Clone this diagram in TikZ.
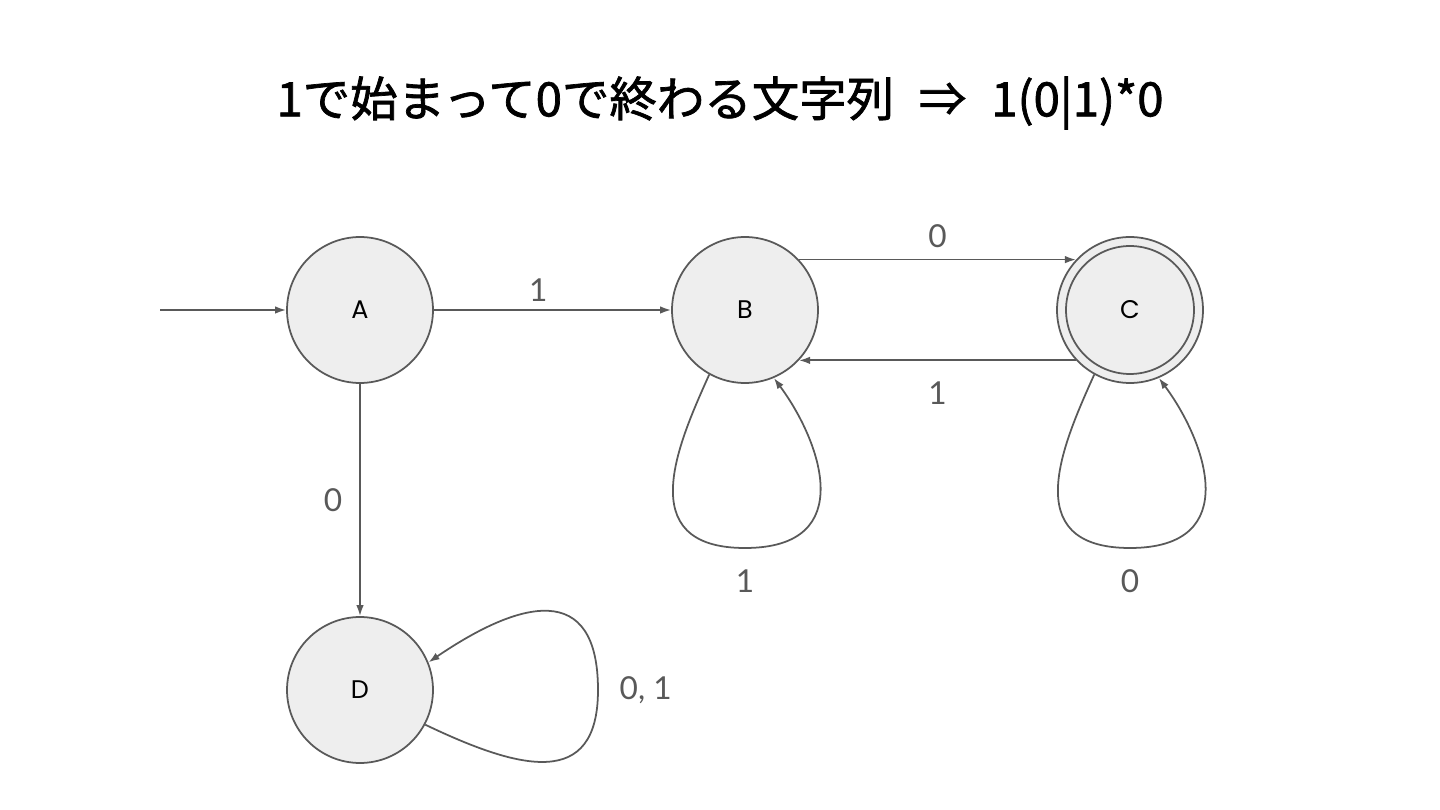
\documentclass[tikz,border=0pt]{standalone}
\usepackage{fontspec}
\setmainfont{Lato}
\newfontfamily\jpfont[FakeBold=1.5]{Noto Sans CJK JP}
\newfontfamily\statefont{Poppins}
\usetikzlibrary{arrows.meta}
\definecolor{edgegray}{HTML}{595959}
\definecolor{statefill}{HTML}{EEEEEE}
\tikzset{
  state/.style={circle, draw=edgegray, line width=1pt, fill=statefill,
    minimum size=2.92cm, inner sep=0pt, font=\statefont\fontsize{14.5}{16}\selectfont},
  edge/.style={draw=edgegray, line width=1pt, -{Latex[length=2.2mm,width=1.5mm]}},
  lbl/.style={text=edgegray, font=\fontsize{18}{21}\selectfont}
}
\begin{document}
\begin{tikzpicture}[x=0.02cm,y=-0.02cm]
  \useasboundingbox (0,0) rectangle (1440,810);
  \node[font=\jpfont\fontsize{27}{30}\selectfont] (title) at (720,103)
    {1で始まって0で終わる文字列\hspace{0.3em} ⇒ \hspace{0.3em}1(0|1)*0};

  \node[state] (A) at (360,310)  {A};
  \node[state] (B) at (745,310)  {B};
  \node[state] (C) at (1130,310) {C};
  \node[state] (D) at (360,690)  {D};
  \draw[edgegray, line width=1pt] (C.center) circle (1.28cm);
  \coordinate (start) at (160,310);

  \draw[edge] (start) -- (A);
  \draw[edge] (A) -- node[lbl, pos=0.44, above=0.03cm] {1} (B);
  \draw[edge] (B.43) -- node[lbl, above=0.1cm] {0} (C.137);
  \draw[edge] (C.223) -- node[lbl, below=0.3cm] {1} (B.317);
  \draw[edge] (A) -- node[lbl, left=0.22cm] {0} (D);

  % loops
  \draw[edge] (B.241) .. controls (680,440) and (630,548) .. (745,548)
    node[lbl, below=0.3cm] {1}
    .. controls (860,548) and (820,440) .. (B.293);
  \draw[edge] (C.241) .. controls (1065,440) and (1015,548) .. (1130,548)
    node[lbl, below=0.3cm] {0}
    .. controls (1245,548) and (1205,440) .. (C.293);
  \draw[edge] (D.332) .. controls (520,770) and (598,790) .. (598,690)
    node[lbl, right=0.3cm] {0, 1}
    .. controls (598,580) and (520,600) .. (D.22);
\end{tikzpicture}
\end{document}
